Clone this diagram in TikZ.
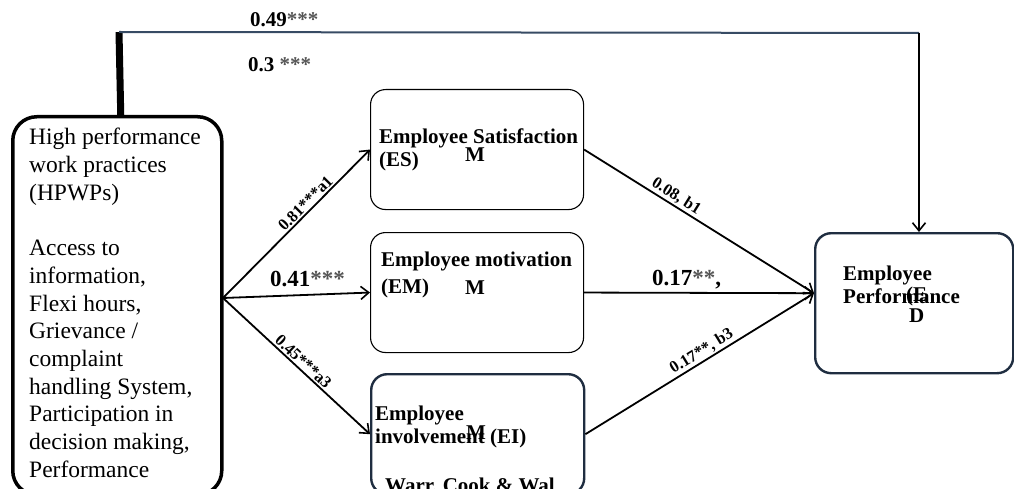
\documentclass[tikz,border=0pt]{standalone}
\usepackage{fontspec}
\setmainfont{Liberation Serif}
\usetikzlibrary{arrows.meta}
\definecolor{navy}{RGB}{31,45,64}
\definecolor{topblue}{RGB}{55,75,100}
\definecolor{stargray}{RGB}{85,85,85}
\newcommand{\stars}[1]{{\color{stargray}#1}}
\begin{document}
\begin{tikzpicture}[x=1pt,y=-1pt,
  thinbox/.style={draw, rounded corners=15pt, line width=1.1pt, inner sep=0, anchor=north west},
  darkbox/.style={draw=navy, rounded corners=16pt, line width=2.4pt, inner sep=0, anchor=north west},
  hpbox/.style={draw, rounded corners=24pt, line width=3.5pt, inner sep=0, anchor=north west},
  conn/.style={line width=1.8pt, -{Straight Barb[length=8pt,width=13pt,line width=1.6pt]}},
  lab/.style={font=\fontsize{21}{24}\selectfont\bfseries, inner sep=0, anchor=base west},
  big/.style={font=\fontsize{23}{26}\selectfont\bfseries, inner sep=0, anchor=base west},
  small/.style={font=\fontsize{16.5}{18}\selectfont\bfseries, sloped, above, inner sep=1.5pt},
  body/.style={font=\fontsize{23.5}{27.7}\selectfont, inner sep=0, anchor=base west}
]
\clip (0,0) rectangle (1014,489);
% boxes
\node[hpbox, minimum width=209pt, minimum height=378pt] (hp) at (11,115) {};
\node[thinbox, minimum width=213pt, minimum height=120pt] (es) at (370,89) {};
\node[thinbox, minimum width=213pt, minimum height=120pt] (em) at (370,232) {};
\node[darkbox, minimum width=213pt, minimum height=120pt] (ei) at (370,373) {};
\node[darkbox, minimum width=198pt, minimum height=140pt] (ep) at (814,232) {};
% left box text
\node[body] (hptext) at (29,145) {\begin{tabular}[t]{@{}l@{}}High performance\\work practices\\(HPWPs)\\ \\Access to\\information,\\Flexi hours,\\Grievance /\\complaint\\handling System,\\Participation in\\decision making,\\Performance\end{tabular}};
% ES
\node[lab] (es1) at (379,144) {Employee Satisfaction};
\node[lab] (es2) at (379,167) {(ES)};
\node[lab, anchor=base] (esm) at (475,162) {M};
% EM
\node[lab] (em1) at (381,266) {Employee motivation};
\node[lab] (em2) at (381,293) {(EM)};
\node[lab, anchor=base] (emm) at (475,294) {M};
% EI
\node[lab] (ei1) at (375,420) {Employee};
\node[lab] (ei2) at (375,443) {involvement (EI)};
\node[lab, anchor=base] (eim) at (476,439) {M};
\node[lab] (ei3) at (385,492) {Warr, Cook \& Wal};
% EP
\node[lab] (ep1) at (843,280) {Employee};
\node[lab] (ep2) at (843,303) {Performance};
\node[lab] (ep3) at (906,301) {(E};
\node[lab] (ep4) at (909,322) {D};
% top path
\coordinate (tl) at (119,32);
\coordinate (tr) at (919,33);
\draw[line width=7pt] ([xshift=3.5pt]hp.north) -- (tl);
\draw[topblue, line width=2pt] (tl) -- (tr);
\draw[conn] (tr) -- (tr |- ep.north);
\node[lab] (l49) at (250,27) {0.49\stars{***}};
\node[lab] (l3) at (248,72) {0.3 \stars{***}};
% hub arrows
\coordinate (hub) at (223,298);
\draw[conn] (hub) -- node[small, pos=0.6] {0.81***a1} (es.west);
\draw[conn] (hub) -- (em.west);
\draw[conn] (hub) -- node[small, pos=0.51] {0.45***a3} (ei.west);
\node[big] (l41) at (270,286) {0.41\stars{***}};
% to EP
\draw[conn] (es.east) -- node[small, pos=0.38] {0.08, b1} ([yshift=10pt]ep.west);
\draw[conn] (em.east) -- ([yshift=10pt]ep.west);
\draw[conn] (ei.east) -- node[small, pos=0.53] {0.17**, b3} ([yshift=10pt]ep.west);
\node[big] (l17) at (652,285) {0.17\stars{**},};
\end{tikzpicture}
\end{document}
